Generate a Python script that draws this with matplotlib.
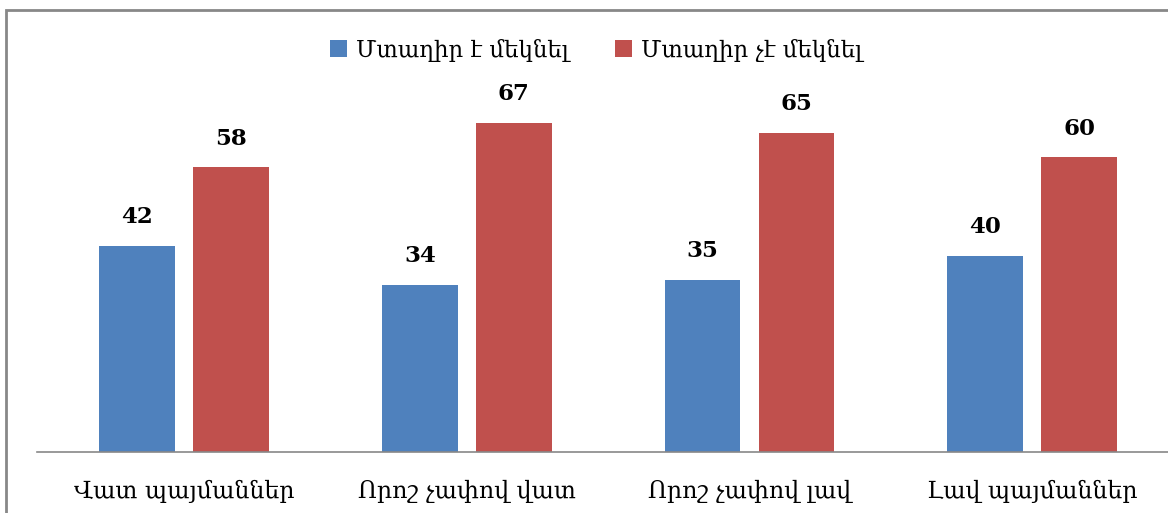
import matplotlib.pyplot as plt
import numpy as np
from matplotlib.patches import Rectangle

categories = ["Վատ պայմաններ", "Որոշ չափով վատ", "Որոշ չափով լավ", "Լավ պայմաններ"]
series_names = ["Մտաղիր է մեկնել", "Մտաղիր չէ մեկնել"]
yes_vals = [42, 34, 35, 40]
no_vals = [58, 67, 65, 60]
colors = ["#4F81BD", "#C0504D"]

plt.rcParams['font.family'] = ['DejaVu Serif', 'DejaVu Sans']

fig = plt.figure(figsize=(11.68, 5.13), dpi=100)
# axes placed in pixel terms of the 1168x513 canvas
ax = fig.add_axes([37 / 1168, 1 - 452 / 513, 1 - 37 / 1168, (452 - 60) / 513])

x = np.arange(len(categories))
w = 0.268
off = 0.166
b1 = ax.bar(x - off, yes_vals, w, color=colors[0], label=series_names[0])
b2 = ax.bar(x + off, no_vals, w, color=colors[1], label=series_names[1])

for bars, vals in [(b1, yes_vals), (b2, no_vals)]:
    for r, v in zip(bars, vals):
        ax.text(r.get_x() + r.get_width() / 2, v + 3.6, str(v), ha='center', va='bottom',
                fontsize=16.5, fontweight='bold')

ax.set_xlim(-0.52, 3.48)
ax.set_ylim(0, (452 - 60) / 4.91)
ax.set_yticks([])
ax.set_xticks(x)
ax.set_xticklabels(categories, fontsize=17)
ax.tick_params(axis='x', length=0, pad=20)
for s in ['top', 'right', 'left']:
    ax.spines[s].set_visible(False)
ax.spines['bottom'].set_color('#888888')
ax.spines['bottom'].set_linewidth(1.2)

fig.legend(loc='center', bbox_to_anchor=(596 / 1168, 1 - 50 / 513), ncol=2, frameon=False,
           fontsize=16.5, handlelength=0.75, handleheight=0.75, columnspacing=2.0, handletextpad=0.4)

# outer chart border (cropped on right and bottom in the reference)
fig.add_artist(Rectangle((6 / 1168, -0.1), 1.2, 1 - 10 / 513 + 0.1, transform=fig.transFigure,
                         fill=False, edgecolor='#888888', linewidth=2, clip_on=False))

plt.savefig('out.png', dpi=100)
